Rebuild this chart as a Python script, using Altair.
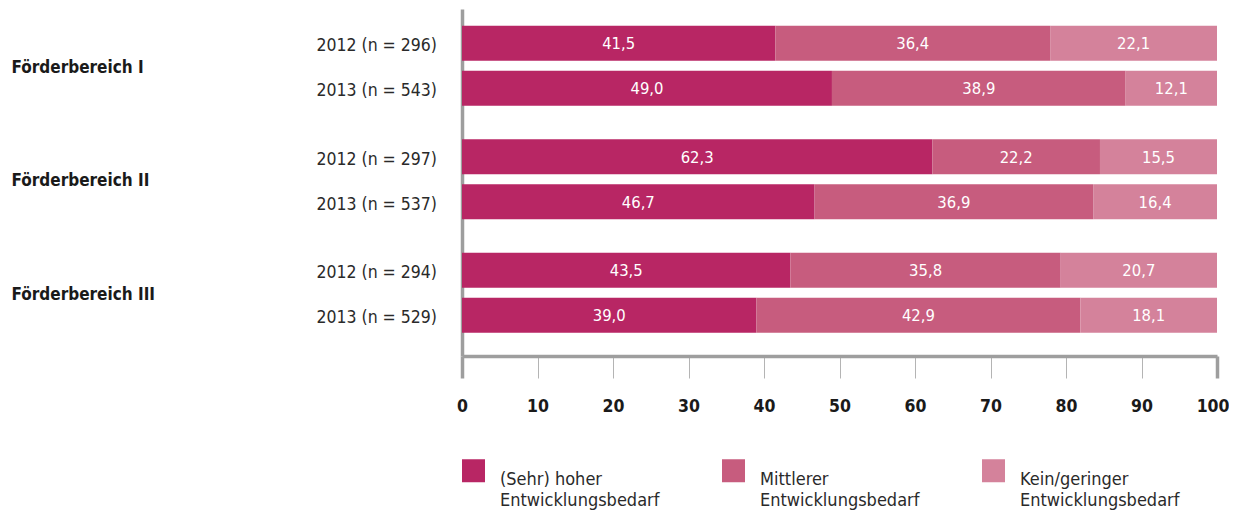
import altair as alt
import pandas as pd

groups = ["Förderbereich I", "Förderbereich II", "Förderbereich III"]
years = ["2012", "2013"]
year_labels = [
    ["2012 (n = 296)", "2013 (n = 543)"],
    ["2012 (n = 297)", "2013 (n = 537)"],
    ["2012 (n = 294)", "2013 (n = 529)"],
]
levels = [
    "(Sehr) hoher|Entwicklungsbedarf",
    "Mittlerer|Entwicklungsbedarf",
    "Kein/geringer|Entwicklungsbedarf",
]
colors = ["#B82664", "#C75C7E", "#D4829B"]

# values[group][year] -> [hoch, mittel, gering]
values = [
    [[41.5, 36.4, 22.1], [49.0, 38.9, 12.1]],
    [[62.3, 22.2, 15.5], [46.7, 36.9, 16.4]],
    [[43.5, 35.8, 20.7], [39.0, 42.9, 18.1]],
]
x_ticks = [0, 10, 20, 30, 40, 50, 60, 70, 80, 90, 100]

rows = []
for gi, g in enumerate(groups):
    for yi, y in enumerate(years):
        for li, lv in enumerate(levels):
            rows.append({
                "group": g,
                "year": y,
                "ylabel": year_labels[gi][yi],
                "level": lv,
                "order": li,
                "value": values[gi][yi][li],
            })
df = pd.DataFrame(rows)

FONT = "DejaVu Sans Condensed"
GRAY = "#9e9e9e"
END_TEST = "datum.value == 0 || datum.value == 100"

y_enc = alt.Y(
    "group:N",
    sort=groups,
    scale=alt.Scale(paddingInner=0, paddingOuter=0.0286, align=0),
    axis=alt.Axis(
        title=None,
        domain=True,
        domainColor=GRAY,
        domainWidth=3.5,
        ticks=False,
        tickSize=0,
        labelAlign="left",
        labelPadding=451,
        labelOffset=2,
        labelFont=FONT,
        labelFontSize=17,
        labelFontWeight="bold",
        labelColor="#1a1a1a",
        labelLimit=300,
    ),
)
yoff_enc = alt.YOffset(
    "year:N",
    sort=years,
    scale=alt.Scale(paddingInner=0.222, paddingOuter=0.372),
)

base = alt.Chart(df).transform_stack(
    stack="value",
    groupby=["group", "year"],
    as_=["x0", "x1"],
    sort=[alt.SortField("order", order="ascending")],
).transform_calculate(
    mid="(datum.x0 + datum.x1) / 2",
    txt="replace(format(datum.value, '.1f'), '.', ',')",
)

bars = base.mark_bar(size=35).encode(
    x=alt.X(
        "x0:Q",
        scale=alt.Scale(domain=[0, 100], nice=False),
        axis=alt.Axis(
            title=None,
            values=x_ticks,
            grid=False,
            domain=True,
            domainColor=GRAY,
            domainWidth=3.5,
            tickColor={"condition": {"test": END_TEST, "value": GRAY}, "value": "#b4b4b4"},
            tickWidth={"condition": {"test": END_TEST, "value": 3.5}, "value": 1},
            tickSize=22,
            labelPadding=19,
            labelFont=FONT,
            labelFontSize=17.5,
            labelFontWeight="bold",
            labelColor="#1a1a1a",
            labelFlush=False,
            labelAlign={"condition": {"test": "datum.value == 100", "value": "right"}, "value": "center"},
            labelOffset={"condition": {"test": "datum.value == 100", "value": 12}, "value": 0},
        ),
    ),
    x2="x1:Q",
    y=y_enc,
    yOffset=yoff_enc,
    color=alt.Color(
        "level:N",
        sort=levels,
        scale=alt.Scale(domain=levels, range=colors),
        legend=alt.Legend(
            title=None,
            orient="none",
            legendX=0,
            legendY=450,
            direction="horizontal",
            columns=3,
            columnPadding=62,
            symbolType="square",
            symbolSize=529,
            symbolStrokeWidth=0,
            symbolOpacity=1,
            labelExpr="split(datum.label, '|')",
            labelFont=FONT,
            labelFontSize=18,
            labelColor="#2a2a2a",
            labelOffset=15,
            labelBaseline="top",
            labelLimit=300,
        ),
    ),
    order=alt.Order("order:Q"),
)

vals = base.mark_text(color="white", font=FONT, fontSize=16.5, dy=1, baseline="middle").encode(
    x="mid:Q",
    y=alt.Y("group:N", sort=groups),
    yOffset=alt.YOffset("year:N", sort=years),
    text="txt:N",
)

ylab = base.transform_filter("datum.order == 0").mark_text(
    align="right", baseline="middle", font=FONT, fontSize=17.5, color="#2a2a2a", dy=3
).encode(
    x=alt.value(-25),
    y=alt.Y("group:N", sort=groups),
    yOffset=alt.YOffset("year:N", sort=years),
    text="ylabel:N",
)

chart = alt.layer(bars, vals, ylab).properties(
    width=755,
    height=347,
    autosize=alt.AutoSizeParams(type="none"),
    padding={"left": 454, "top": 1, "right": 12, "bottom": 157},
).configure(
    view={"stroke": "transparent"},
    style={"guide-label": {"lineHeight": 21}},
)

chart.save("out.html", embed_options={"renderer": "svg", "actions": False})
